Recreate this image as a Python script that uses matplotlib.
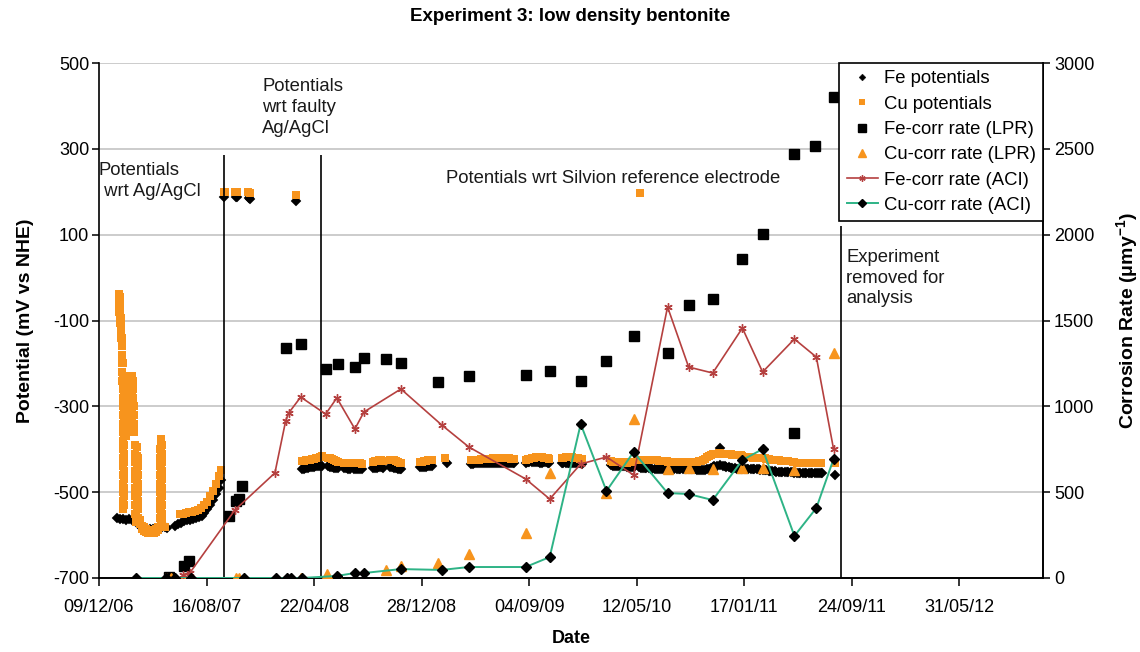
import numpy as np
import matplotlib
matplotlib.use("Agg")
import matplotlib.pyplot as plt
import matplotlib.dates as mdates

plt.rcParams['font.family'] = ['Liberation Sans', 'DejaVu Sans']
plt.rcParams['mathtext.fontset'] = 'custom'
plt.rcParams['mathtext.rm'] = 'Liberation Sans'
plt.rcParams['mathtext.bf'] = 'Liberation Sans:bold'
plt.rcParams['mathtext.default'] = 'bf'
plt.rcParams['axes.unicode_minus'] = False

# all times are days since 09/12/06
T0 = np.datetime64('2006-12-09')

# ---------------- Fe potentials (mV vs NHE) ----------------
fe_pot_days = [42, 49, 56, 63, 70, 77, 84, 91, 98, 105, 112, 118, 125, 132, 139, 146, 153, 158,
               176, 183, 190, 197, 204, 211, 218, 225, 232, 239, 244, 251, 258, 265, 272, 279, 283,
               291, 318, 322, 348, 352, 458,
               472, 476, 481, 486, 490, 495, 500, 504, 509, 514, 518,
               532, 537, 541, 546, 551, 555,
               569, 574, 579, 583, 592, 597, 602, 606, 611,
               637, 641, 646, 651, 655, 660,
               676, 681, 685, 690, 695, 699, 702,
               746, 751, 755, 760, 764, 769, 774,
               809,
               864, 869, 874, 878, 883, 888, 892, 897, 902, 906, 911, 916, 920, 925, 929, 934, 939, 944,
               948, 953, 957, 962, 966,
               992, 997, 1001, 1006, 1011, 1015, 1020, 1025, 1029, 1034, 1039, 1043, 1046,
               1076, 1080, 1085, 1090, 1094, 1099, 1104, 1108, 1113, 1118, 1122,
               1190, 1195, 1199, 1204, 1208, 1213, 1218, 1222, 1227, 1232, 1236, 1241, 1245,
               1255, 1260, 1264, 1269, 1273, 1278, 1283, 1287, 1292, 1297, 1301, 1306, 1311, 1315,
               1320, 1324, 1329, 1334, 1338, 1343, 1348, 1352, 1357, 1362, 1366, 1371, 1376, 1380,
               1385, 1390, 1394, 1399, 1404, 1408, 1413, 1418, 1422, 1427, 1431,
               1436, 1444, 1445, 1450, 1455, 1459, 1464, 1469, 1473, 1478, 1483, 1487, 1492, 1496,
               1501, 1506, 1510, 1515, 1520, 1524, 1529, 1534, 1538, 1543, 1548, 1552, 1557,
               1561, 1566, 1571, 1575, 1580, 1585, 1589, 1594, 1599, 1603, 1608, 1613,
               1617, 1622, 1627, 1631, 1636, 1641, 1645, 1650, 1655, 1659, 1664, 1669, 1673, 1678, 1682,
               1712]
fe_pot_mv = [-560, -562, -563, -565, -563, -566, -568, -575, -580, -583, -585, -586, -586, -585, -583,
             -582, -582, -583,
             -578, -575, -572, -568, -566, -564, -563, -561, -559, -555, -548, -540, -530, -518, -505,
             -490, -472,
             188, 188, 187, 186, 184, 178,
             -446, -445, -444, -443, -442, -442, -441, -440, -440, -439, -438,
             -440, -441, -442, -443, -444, -444,
             -443, -444, -445, -445, -446, -445, -445, -446, -446,
             -444, -443, -443, -442, -442, -443,
             -441, -442, -443, -444, -445, -446, -446,
             -442, -442, -441, -441, -440, -440, -439,
             -433,
             -434, -434, -433, -433, -432, -432, -432, -431, -431, -432, -432, -433, -433, -432, -432,
             -431, -431, -432, -432, -433, -433, -432, -432,
             -431, -430, -430, -429, -429, -430, -430, -431, -431, -430, -430, -431, -432,
             -433, -432, -432, -431, -431, -432, -432, -433, -433, -433, -434,
             -437, -438, -438, -439, -439, -440, -440, -440, -441, -441, -441, -442, -442,
             -442, -443, -443, -444, -444, -444, -445, -445, -445, -446, -446, -446, -446, -446,
             -446, -446, -446, -446, -446, -446, -446, -446, -446, -447, -447, -447, -447, -447,
             -447, -448, -448, -448, -448, -448, -447, -446, -444, -442, -440,
             -438, -396, -437, -438, -440, -441, -442, -443, -444, -444, -445, -445, -445, -446,
             -446, -446, -446, -446, -446, -447, -447, -447, -448, -448, -449, -449, -450,
             -450, -451, -451, -452, -452, -452, -453, -453, -453, -454, -454, -454,
             -455, -455, -455, -455, -456, -456, -456, -456, -456, -456, -456, -456, -456, -456, -456,
             -460]

# ---------------- Cu potentials (mV vs NHE) ----------------
# early readings: several logged values per day during the unstable start-up
cu_pot_start = [
    (47, [-38, -52, -66, -80]),
    (49, [-45, -60, -75, -90, -105]),
    (51, [-95, -110, -125, -140]),
    (53, [-140, -160, -180, -200, -220, -240]),
    (55, [-200, -230, -260, -290]),
    (56, [-260, -280, -300, -320, -340, -360, -380, -400, -420, -440, -460, -480, -500, -520, -540]),
    (58, [-250, -270, -290, -310, -330, -350, -370, -390, -410, -430, -450, -470, -490, -510, -530]),
    (60, [-240, -260, -280, -300, -320, -340, -360]),
    (63, [-230, -250, -270, -290, -310, -330, -350, -370]),
    (65, [-240, -260, -280, -300, -320, -340, -360]),
    (67, [-250, -270, -290, -310, -330, -350]),
    (70, [-250, -270, -290, -310, -330, -350]),
    (72, [-255, -275, -295, -315, -335]),
    (75, [-245, -265, -285, -305, -325]),
    (77, [-230, -250, -270, -290, -310, -330]),
    (79, [-240, -260, -280, -300, -320, -340, -360]),
    (81, [-300, -320, -340, -360]),
    (84, [-390, -410, -430, -450, -470, -490, -510, -530, -550]),
    (86, [-555, -570]),
    (88, [-395, -415, -435, -455, -475, -495, -515, -535]),
    (91, [-420, -440, -460, -480, -500, -520, -540, -560]),
    (95, [-565, -575]), (100, [-578, -585]), (105, [-582, -590]), (109, [-585, -592]),
    (114, [-588, -594]), (118, [-590, -595]), (123, [-590, -595]), (128, [-588, -594]),
    (132, [-585, -592]), (137, [-580, -588]),
    (142, [-560, -540, -520, -500, -480, -460, -440, -420, -400]),
    (144, [-376, -395, -415, -435, -455, -475, -495, -515, -535, -555, -575]),
    (146, [-390, -410, -430, -450, -470, -490, -510, -530, -550, -570]),
    (149, [-580]), (153, [-581]),
]
cu_pot_days = [188, 195, 202, 209, 216, 223, 230, 237, 244, 251, 258, 265, 272, 279, 283,
               290, 293, 316, 321, 346, 351, 458,
               472, 476, 481, 486, 490, 495, 500, 504, 509, 514, 518,
               532, 537, 541, 546, 551, 555,
               569, 574, 579, 583, 592, 597, 602, 606, 611,
               637, 641, 646, 651, 655, 660,
               676, 681, 685, 690, 695, 699, 702,
               746, 751, 755, 760, 764, 769, 774,
               804,
               864, 869, 874, 878, 883, 888, 892, 897, 902, 906, 911, 916, 920, 925, 929, 934, 939, 944,
               948, 953, 957, 962, 966,
               992, 997, 1001, 1006, 1011, 1015, 1020, 1025, 1029, 1034, 1039, 1043, 1046,
               1076, 1080, 1085, 1090, 1094, 1099, 1104, 1108, 1113, 1118, 1122,
               1190, 1195, 1199, 1204, 1208, 1213, 1218, 1222, 1227, 1232, 1236,
               1250, 1255, 1259, 1260, 1264, 1269, 1273, 1278, 1283, 1287, 1292, 1297, 1301, 1306, 1311,
               1315, 1320, 1324, 1329, 1334, 1338, 1343, 1348, 1352, 1357, 1362, 1366, 1371, 1376,
               1380, 1385, 1390, 1394, 1399, 1404, 1408, 1413, 1418, 1422, 1427,
               1436, 1441, 1445, 1450, 1455, 1459, 1464, 1469, 1473, 1478, 1483, 1487, 1492,
               1496, 1501, 1506, 1510, 1515, 1520, 1524, 1529, 1534, 1538, 1543, 1548, 1552, 1557,
               1561, 1566, 1571, 1575, 1580, 1585, 1589, 1594, 1599, 1603,
               1613, 1617, 1622, 1627, 1631, 1636, 1641, 1645, 1650, 1655, 1659, 1664, 1669, 1673, 1678,
               1712]
cu_pot_mv = [-552, -550, -548, -547, -546, -545, -542, -538, -530, -522, -510, -498, -480, -462, -448,
             199, 200, 199, 199, 199, 198, 192,
             -428, -427, -426, -425, -424, -423, -422, -421, -420, -418, -416,
             -420, -421, -423, -425, -427, -429,
             -431, -432, -432, -433, -432, -433, -433, -433, -434,
             -430, -428, -427, -426, -426, -427,
             -424, -425, -426, -428, -430, -432, -432,
             -430, -429, -428, -427, -426, -425, -425,
             -420,
             -426, -425, -424, -424, -424, -423, -423, -423, -422, -422, -422, -421, -421, -421, -420,
             -420, -420, -420, -421, -421, -422, -422, -423,
             -424, -423, -422, -421, -420, -419, -418, -418, -419, -420, -420, -421, -422,
             -421, -420, -419, -418, -418, -419, -420, -420, -421, -422, -423,
             -428, -429, -429, -430, -430, -430, -431, -431, -431, -430, -430,
             -426, -425, 197, -425, -424, -424, -424, -424, -425, -425, -426, -426, -427, -427, -428,
             -428, -428, -429, -429, -429, -429, -429, -430, -430, -430, -430, -430, -430, -430,
             -430, -430, -429, -428, -427, -425, -422, -419, -416, -413, -412,
             -410, -409, -409, -410, -411, -411, -412, -412, -413, -413, -413, -413, -414,
             -416, -418, -419, -419, -419, -420, -420, -420, -421, -421, -421, -421, -422, -423,
             -424, -425, -425, -426, -426, -427, -427, -427, -428, -428,
             -430, -430, -431, -431, -431, -431, -431, -432, -432, -432, -432, -432, -432, -432, -432,
             -432]

# ---------------- corrosion rates (um/y) ----------------
fe_lpr_days = [163, 197, 209, 302, 318, 325, 332, 434, 469, 527, 555, 595, 616, 667, 702, 788, 860,
               992, 1048, 1120, 1180, 1243, 1322, 1371, 1427, 1496, 1543, 1617, 1617, 1666, 1708]
fe_lpr_rate = [8, 70, 99, 361, 449, 460, 536, 1340, 1363, 1217, 1247, 1229, 1282, 1276, 1252, 1142,
               1177, 1183, 1206, 1148, 1264, 1410, 1311, 1590, 1625, 1858, 2004, 845, 2470, 2516, 2802]

cu_lpr_days = [156, 167, 197, 318, 325, 469, 530, 555, 667, 702, 788, 860, 992, 1048, 1180, 1243,
               1322, 1371, 1427, 1496, 1543, 1617, 1708]
cu_lpr_rate = [0, 0, 0, 0, 0, 0, 23, 5, 47, 70, 87, 140, 262, 612, 495, 926,
               635, 641, 635, 641, 641, 629, 1311]

fe_aci_days = [195, 211, 316, 409, 434, 441, 469, 527, 553, 595, 616, 702, 797, 860, 992, 1048,
               1120, 1180, 1243, 1322, 1371, 1427, 1496, 1543, 1617, 1668, 1708]
fe_aci_rate = [17, 29, 396, 612, 915, 961, 1054, 955, 1049, 868, 967, 1101, 891, 763, 577, 460,
               664, 705, 600, 1579, 1229, 1194, 1456, 1200, 1392, 1287, 751]

cu_aci_days = [86, 156, 177, 214, 337, 411, 437, 446, 472, 553, 595, 616, 702, 797, 860, 992, 1048,
               1120, 1180, 1243, 1322, 1371, 1427, 1496, 1543, 1617, 1668, 1708]
cu_aci_rate = [0, 0, 0, 0, 0, 0, 0, 0, 0, 12, 29, 29, 52, 47, 64, 64, 122,
               897, 507, 734, 495, 489, 454, 687, 751, 245, 408, 693]

# reference-electrode change dates and end of experiment
event_days = [290, 516, 1726]

x_tick_days = [0, 250, 500, 750, 1000, 1250, 1500, 1750, 2000]


def as_dates(days):
    d = np.asarray(days, dtype=float)
    return T0 + np.round(d * 24).astype('timedelta64[h]')


# flatten the start-up Cu readings
cu_start_days = [d for d, vals in cu_pot_start for _ in vals]
cu_start_mv = [v for _, vals in cu_pot_start for v in vals]

ORANGE = '#F7941D'
RED = '#B5403F'
GREEN = '#2EB386'

fig = plt.figure(figsize=(11.4, 6.52), dpi=100)
ax = fig.add_axes([99 / 1140, 1 - 578 / 652, (1043 - 99) / 1140, (578 - 63) / 652])
ax2 = ax.twinx()

ax.set_ylim(-700, 500)
ax.set_yticks(np.arange(-700, 501, 200))
ax2.set_ylim(0, 3000)
ax2.set_yticks(np.arange(0, 3001, 500))
ax.set_xlim(as_dates([0])[0], as_dates([2195])[0])
ax.set_xticks(as_dates(x_tick_days))
ax.xaxis.set_major_formatter(mdates.DateFormatter('%d/%m/%y'))

ax.grid(axis='y', color='#C8C8C8', lw=1.3)
ax.set_axisbelow(True)
for a in (ax, ax2):
    a.spines['top'].set_visible(False)
    for s in a.spines.values():
        s.set_linewidth(1.2)
ax2.spines['left'].set_visible(False)

ax.tick_params(axis='y', labelsize=13, length=5, width=1.1, pad=2)
ax.tick_params(axis='x', labelsize=13, length=6, width=1.1, pad=9)
ax2.tick_params(axis='y', labelsize=13, length=5, width=1.1, pad=3)

# potentials
h_fe_pot, = ax.plot(as_dates(fe_pot_days), fe_pot_mv, ls='none', marker='D', ms=4.6,
                    mfc='black', mec='black', mew=0.3, label='Fe potentials', zorder=3)
ax.plot(as_dates(cu_start_days), cu_start_mv, ls='none', marker='s', ms=5.2,
        mfc=ORANGE, mec=ORANGE, mew=0, zorder=4)
h_cu_pot, = ax.plot(as_dates(cu_pot_days), cu_pot_mv, ls='none', marker='s', ms=5.2,
                    mfc=ORANGE, mec=ORANGE, mew=0, label='Cu potentials', zorder=4)

# event lines
ax.vlines(as_dates(event_days[:2]), -700, 286, color='black', lw=1.2, zorder=5)
ax.vlines(as_dates(event_days[2:]), -700, 120, color='black', lw=1.2, zorder=5)

# corrosion rates
h_fe_lpr, = ax2.plot(as_dates(fe_lpr_days), fe_lpr_rate, ls='none', marker='s', ms=7.8,
                     mfc='black', mec='black', label='Fe-corr rate (LPR)', zorder=3)
h_cu_lpr, = ax2.plot(as_dates(cu_lpr_days), cu_lpr_rate, ls='none', marker='^', ms=7.5,
                     mfc=ORANGE, mec=ORANGE, label='Cu-corr rate (LPR)', zorder=3)
h_fe_aci, = ax2.plot(as_dates(fe_aci_days), fe_aci_rate, color=RED, lw=1.2, marker=(6, 2, 0),
                     ms=6, mec=RED, mew=1.0, label='Fe-corr rate (ACI)', zorder=4)
h_cu_aci, = ax2.plot(as_dates(cu_aci_days), cu_aci_rate, color=GREEN, lw=1.4, marker='D',
                     ms=5.2, mfc='black', mec='black', label='Cu-corr rate (ACI)', zorder=4)

# annotations
txt = dict(fontsize=13.3, color='#1a1a1a', linespacing=1.3, zorder=6)
ax.text(as_dates([0])[0], 226, 'Potentials\n wrt Ag/AgCl', ha='left', va='center', **txt)
ax.text(as_dates([380])[0], 397, 'Potentials\nwrt faulty\nAg/AgCl', ha='left', va='center', **txt)
ax.text(as_dates([808])[0], 230, 'Potentials wrt Silvion reference electrode', ha='left',
        va='center', **txt)
ax.text(as_dates([1738])[0], -1, 'Experiment\nremoved for\nanalysis', ha='left', va='center', **txt)

ax.set_ylabel('Potential (mV vs NHE)', fontsize=14, fontweight='bold', labelpad=14)
ax2.set_ylabel('Corrosion Rate (μmy$^{-1}$)', fontsize=14, fontweight='bold', labelpad=14)
ax.set_xlabel('Date', fontsize=13, fontweight='bold', labelpad=10)
fig.suptitle('Experiment 3: low density bentonite', fontsize=13.5, fontweight='bold', y=0.988)

leg = ax2.legend(handles=[h_fe_pot, h_cu_pot, h_fe_lpr, h_cu_lpr, h_fe_aci, h_cu_aci],
                 loc='upper right', bbox_to_anchor=(1.0, 1.0), borderaxespad=0,
                 fontsize=13.3, frameon=True, fancybox=False, framealpha=1,
                 edgecolor='black', handlelength=1.7, handletextpad=0.3,
                 labelspacing=0.45, borderpad=0.4, markerscale=0.75)
leg.get_frame().set_linewidth(1.2)
leg.set_zorder(10)

fig.savefig('out.png', dpi=100)
